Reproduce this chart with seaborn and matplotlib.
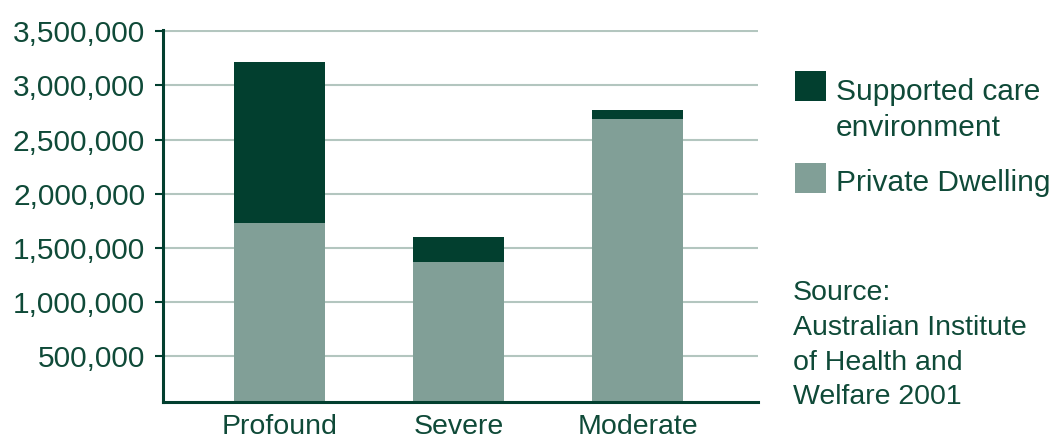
import matplotlib
matplotlib.use("Agg")
import matplotlib.pyplot as plt
from matplotlib.patches import Rectangle
from matplotlib.ticker import FuncFormatter
import numpy as np
import pandas as pd
import seaborn as sns

# Level of core activity restriction
categories = ["Profound", "Severe", "Moderate"]
private_dwelling = [1731000, 1371000, 2691000]
supported_care = [1485000, 230000, 83000]
y_ticks = [500000, 1000000, 1500000, 2000000, 2500000, 3000000, 3500000]
legend_labels = [["Supported care", "environment"], ["Private Dwelling"]]
source_lines = ["Source:", "Australian Institute", "of Health and", "Welfare 2001"]

DARK = "#023f2f"
LIGHT = "#819f97"
GRID = "#b3c6bf"
TEXT = "#0f4a38"

sns.set_theme(style="white")
plt.rcParams["font.family"] = ["Liberation Sans", "DejaVu Sans"]
plt.rcParams["text.color"] = TEXT

W, H = 1055, 443
fig = plt.figure(figsize=(W / 100, H / 100), dpi=100)
ax = fig.add_axes([163 / W, 1 - 402 / H, (758 - 163) / W, (402 - 29.5) / H])

df = pd.DataFrame({
    "level": categories,
    "private": private_dwelling,
    "supported": supported_care,
})
df["total"] = df["private"] + df["supported"]

# Stacked bars: full height in dark, private dwelling share overlaid in light
sns.barplot(data=df, x="level", y="total", order=categories, color=DARK,
            width=0.508, saturation=1, ax=ax, zorder=2)
sns.barplot(data=df, x="level", y="private", order=categories, color=LIGHT,
            width=0.508, saturation=1, ax=ax, zorder=3)
for p in ax.patches:
    p.set_linewidth(0)

ax.set_xlim(-0.649, 2.67)
ax.set_ylim(78500, 3516700)
ax.set_yticks(y_ticks)
ax.yaxis.set_major_formatter(FuncFormatter(lambda v, _: f"{v:,.0f}"))
ax.set_xlabel("")
ax.set_ylabel("")

ax.yaxis.grid(True, color=GRID, linewidth=1.5)
ax.xaxis.grid(False)
ax.set_axisbelow(True)

for side in ("top", "right"):
    ax.spines[side].set_visible(False)
for side in ("left", "bottom"):
    ax.spines[side].set_color(DARK)
    ax.spines[side].set_linewidth(2.2)
    ax.spines[side].set_zorder(5)

ax.tick_params(axis="y", length=5.8, width=1.5, color=DARK, pad=7,
               labelsize=21.5, labelcolor=TEXT, left=True)
ax.tick_params(axis="x", length=0, pad=9, labelsize=20.5, labelcolor=TEXT)


def fx(px):
    return px / W


def fy(py):
    return 1 - py / H


# Legend keys and labels
for (top, bottom), color in [((71, 101), DARK), ((163, 193), LIGHT)]:
    fig.add_artist(Rectangle((fx(795), fy(bottom)), fx(826) - fx(795),
                             fy(top) - fy(bottom), transform=fig.transFigure,
                             facecolor=color, edgecolor="none"))
for lines, base in zip(legend_labels, [99.5, 191]):
    for i, line in enumerate(lines):
        fig.text(fx(836), fy(base + i * 36.7), line, fontsize=21.5,
                 color=TEXT, va="baseline", ha="left")

# Data source note
for i, line in enumerate(source_lines):
    fig.text(fx(793), fy(300 + i * 34.8), line, fontsize=20.5,
             color=TEXT, va="baseline", ha="left")

fig.savefig("out.png", dpi=100)
